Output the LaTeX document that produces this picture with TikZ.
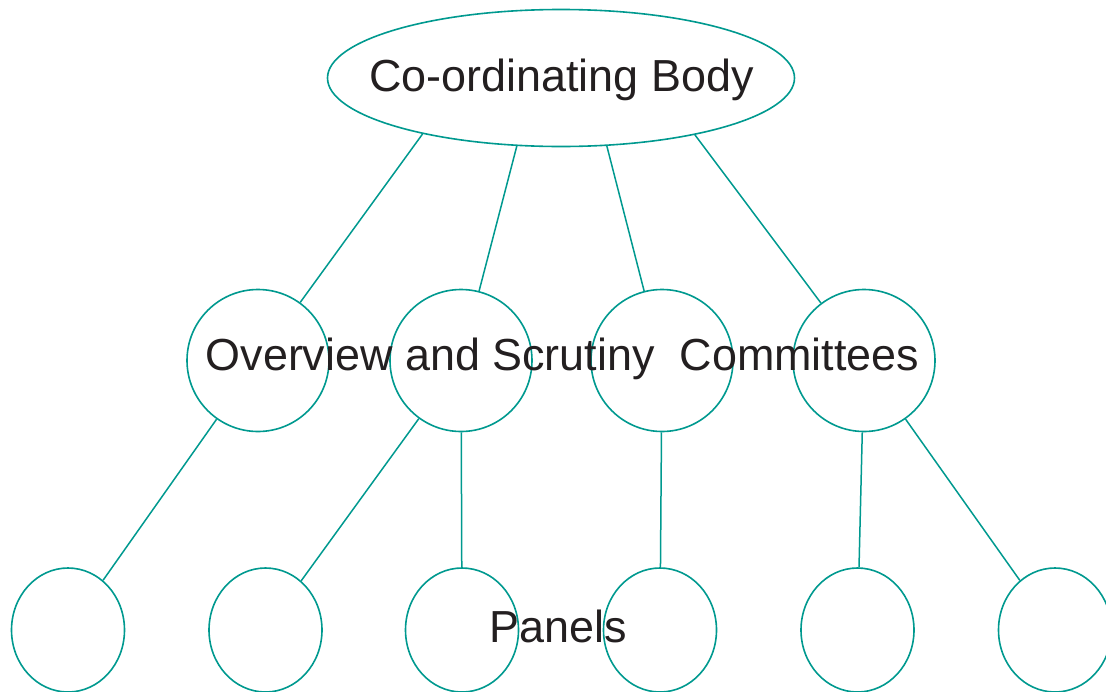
\documentclass[tikz,border=0pt]{standalone}
\usepackage{fontspec}
\setmainfont{Liberation Sans}
\usetikzlibrary{shapes.geometric}
\definecolor{teal}{RGB}{0,153,143}
\definecolor{ink}{RGB}{35,31,32}
\begin{document}
\begin{tikzpicture}[x=1pt,y=-1pt,
  shapeline/.style={draw=teal,line width=1.6pt},
  midcirc/.style={shapeline,circle,minimum size=142pt,inner sep=0pt},
  lowcirc/.style={shapeline,ellipse,minimum width=113pt,minimum height=124pt,inner sep=0pt},
  conn/.style={draw=teal,line width=1.5pt},
  txt/.style={text=ink,font=\fontsize{44.9}{50}\selectfont,inner sep=0pt,anchor=base}]
\useasboundingbox (0,0) rectangle (1106,691);
\node[shapeline,ellipse,minimum width=467pt,minimum height=137pt,inner sep=0pt] (top) at (561,78) {};
\node[midcirc] (m1) at (258,360.5) {};
\node[midcirc] (m2) at (461,360.5) {};
\node[midcirc] (m3) at (662,360.5) {};
\node[midcirc] (m4) at (864,360.5) {};
\node[lowcirc] (b1) at (68,630) {};
\node[lowcirc] (b2) at (265.5,630) {};
\node[lowcirc] (b3) at (462,630) {};
\node[lowcirc] (b4) at (660,630) {};
\node[lowcirc] (b5) at (857.5,630) {};
\node[lowcirc] (b6) at (1055,630) {};
\draw[conn] (top.202.7) -- (m1);
\draw[conn] (top.237.5) -- (m2);
\draw[conn] (top.304.8) -- (m3);
\draw[conn] (top.337.3) -- (m4);
\draw[conn] (m1) -- (b1);
\draw[conn] (m2) -- (b2);
\draw[conn] (m2) -- (b3);
\draw[conn] (m3) -- (b4);
\draw[conn] (m4) -- (b5);
\draw[conn] (m4) -- (b6);
\node[txt] (toptext) at (561.5,91) {Co-ordinating Body};
\node[txt] (midtext) at (562.5,370) {Overview and Scrutiny\ \ Committees};
\node[txt] (lowtext) at (558.5,642) {Panels};
\end{tikzpicture}
\end{document}
